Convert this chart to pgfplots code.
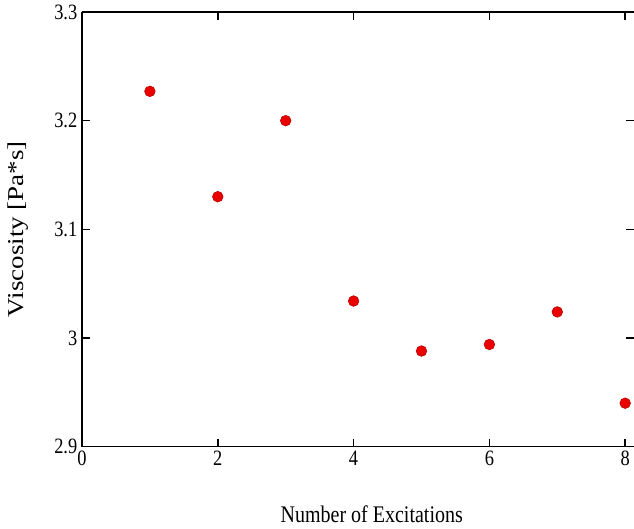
\documentclass[border=0pt]{standalone}
\usepackage{pgfplots}
\pgfplotsset{compat=1.18}
\usepackage{fontspec}
\setmainfont{Liberation Serif}
\begin{document}
\begin{tikzpicture}
\pgfplotsset{
  base/.style={
    scale only axis, width=414pt, height=326pt,
    xmin=0, xmax=8.13, ymin=2.9, ymax=3.3,
    tick align=inside, major tick length=6pt,
    tick style={black, line width=1.2pt},
    axis line style={line width=1.2pt},
    ticklabel style={font=\fontsize{13.8}{13.8}\selectfont},
  }
}
\begin{axis}[base,
  axis x line*=box, axis y line*=left,
  xtick={0,2,4,6,8}, ytick={2.9,3,3.1,3.2,3.3},
  xticklabel={\scalebox{1}[1.19]{\pgfmathprintnumber[assume math mode=true]{\tick}}},
  yticklabel={\scalebox{1}[1.19]{\pgfmathprintnumber[fixed,precision=1,assume math mode=true]{\tick}}},
  xlabel={\scalebox{1}[1.19]{\fontsize{15}{15}\selectfont Number of Excitations}},
  ylabel={\scalebox{1.19}[1]{\fontsize{17}{17}\selectfont Viscosity [Pa*s]}},
  xlabel style={at={(rel axis cs:0.525,0)}, anchor=center, yshift=-51pt},
  ylabel style={at={(rel axis cs:0,0.5)}, anchor=center, yshift=48pt},
]
\addplot[only marks, mark=*, mark size=4pt,
  mark options={fill=red!92!black, draw=red!70!black, line width=0.4pt}]
  coordinates {
  (1,3.227) (2,3.130) (3,3.200) (4,3.034)
  (5,2.988) (6,2.994) (7,3.024) (8,2.940)
};
\coordinate (ll) at (rel axis cs:0,0);
\coordinate (ur) at (rel axis cs:1,1);
\end{axis}
\begin{axis}[base,
  axis y line*=right, axis x line=none,
  ytick={3,3.1,3.2}, yticklabels={},
  y axis line style={draw=none},
]
\end{axis}
\pgfresetboundingbox
\path[use as bounding box] ([xshift=-61.5pt,yshift=-61.5pt]ll) rectangle ([yshift=9pt]ur);
\end{tikzpicture}
\end{document}
